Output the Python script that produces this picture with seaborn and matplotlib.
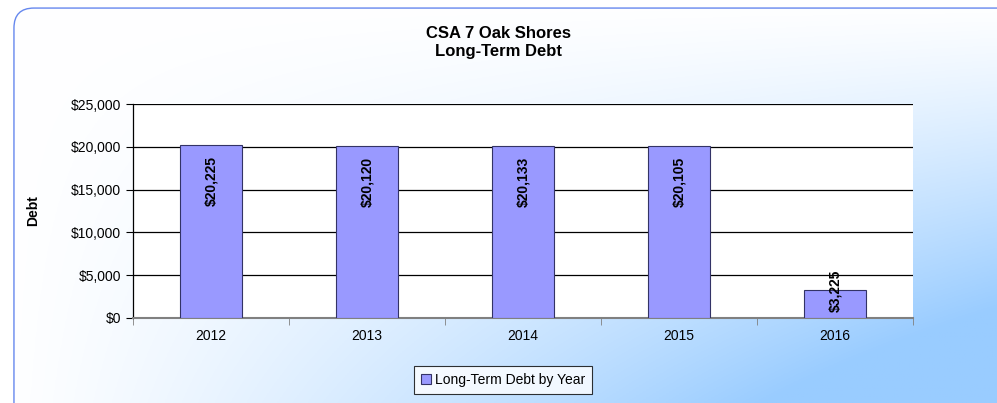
import matplotlib
matplotlib.use('Agg')
import matplotlib.pyplot as plt
from matplotlib.patches import FancyBboxPatch
from matplotlib.ticker import FuncFormatter, FixedLocator
import seaborn as sns
import numpy as np
import pandas as pd

years = ['2012', '2013', '2014', '2015', '2016']
debt = [20225, 20120, 20133, 20105, 3225]
title = 'CSA 7 Oak Shores\nLong-Term Debt'
legend_label = 'Long-Term Debt by Year'

df = pd.DataFrame({'year': years, 'debt': debt})

sns.set_style('white')
plt.rcParams['font.family'] = ['Liberation Sans', 'DejaVu Sans']
plt.rcParams['text.color'] = 'black'
plt.rcParams['axes.labelcolor'] = 'black'
plt.rcParams['xtick.color'] = 'black'
plt.rcParams['ytick.color'] = 'black'

fig = plt.figure(figsize=(9.97, 4.03), dpi=100)
fig.patch.set_facecolor('white')

# background gradient inside rounded frame (white top-left -> blue bottom-right)
bg = fig.add_axes([0, 0, 1, 1], zorder=0)
bg.set_xlim(0, 1)
bg.set_ylim(0, 1)
bg.axis('off')
xx, yy = np.meshgrid(np.linspace(0, 1, 400), np.linspace(0, 1, 200))
t = np.clip(xx * yy * 1.3, 0, 1) ** 1.2
c0 = np.array([1.0, 1.0, 1.0])
c1 = np.array([0x99, 0xcc, 0xff]) / 255
img = c0 + (c1 - c0) * t[..., None]
frame = FancyBboxPatch((0.014, -0.06), 1.05, 1.04,
                       boxstyle='round,pad=0,rounding_size=0.02',
                       mutation_aspect=997 / 403,
                       transform=bg.transAxes, facecolor='none',
                       edgecolor='#6688ee', linewidth=1.0)
bg.add_patch(frame)
im = bg.imshow(img, extent=[0, 1, 0, 1], origin='upper', aspect='auto')
im.set_clip_path(frame)

ax = fig.add_axes([133 / 997, 1 - 318 / 403, 780 / 997, 214 / 403], zorder=1)
ax.set_facecolor('white')
sns.barplot(data=df, x='year', y='debt', ax=ax, color='#9999ff',
            width=0.4, edgecolor='#333366', linewidth=0.8, saturation=1,
            label=legend_label, zorder=3)

ax.set_ylim(0, 25000)
ax.set_xlim(-0.5, 4.5)
ax.yaxis.set_major_locator(FixedLocator(np.arange(0, 25001, 5000)))
ax.yaxis.set_major_formatter(FuncFormatter(lambda v, p: f'${v:,.0f}'))
for v in range(5000, 25001, 5000):
    ax.axhline(v, color='black', linewidth=0.9, zorder=1)

for s in ['top', 'right']:
    ax.spines[s].set_visible(False)
ax.spines['left'].set_color('black')
ax.spines['left'].set_linewidth(0.9)
ax.spines['bottom'].set_color('#808080')
ax.spines['bottom'].set_linewidth(1.5)

ax.tick_params(axis='y', which='major', direction='out', length=5,
               color='black', labelsize=10, left=True, labelcolor='black')
ax.tick_params(axis='x', which='major', length=0, labelsize=10, pad=8,
               labelcolor='black')
ax.set_xticks(np.arange(-0.5, 4.6, 1), minor=True)
ax.tick_params(axis='x', which='minor', direction='out', length=5,
               color='#808080', bottom=True)

ax.set_xlabel('')
ax.set_ylabel('Debt', fontsize=10, fontweight='bold', labelpad=22,
              color='black')

for i, v in enumerate(debt):
    lab = f'${v:,.0f}'
    if v > 8000:
        ax.annotate(lab, (i, v), xytext=(0, -8), textcoords='offset points',
                    rotation=90, ha='center', va='top', fontsize=10,
                    fontweight='bold', color='black', zorder=5)
    else:
        ax.annotate(lab, (i, v), rotation=90, ha='center', va='center',
                    fontsize=10, fontweight='bold', color='black', zorder=5)

fig.suptitle(title, fontsize=12, fontweight='bold', y=0.935,
             linespacing=1.25, color='black')

leg = ax.legend(loc='center', bbox_to_anchor=(503 / 997, 1 - 380 / 403),
                bbox_transform=fig.transFigure, frameon=True, fontsize=10,
                fancybox=False, handlelength=0.7, handleheight=0.7,
                handletextpad=0.3, borderpad=0.5)
leg.get_frame().set_edgecolor('black')
leg.get_frame().set_linewidth(0.8)
for txt in leg.get_texts():
    txt.set_color('black')

fig.savefig('out.png', dpi=100)
